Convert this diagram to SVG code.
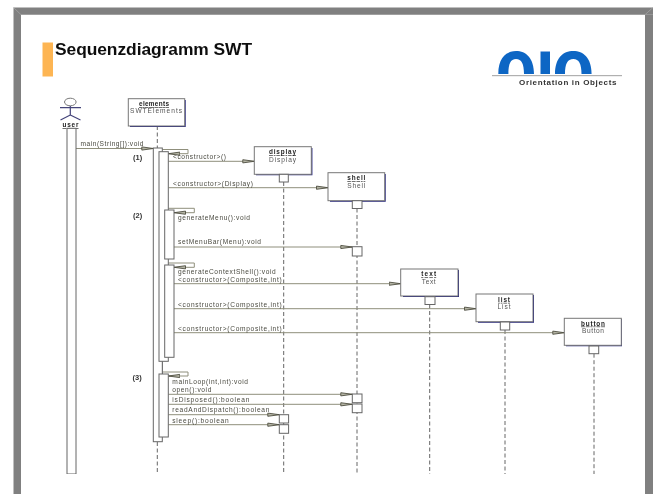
<svg xmlns="http://www.w3.org/2000/svg" width="653" height="494" viewBox="0 0 653 494">
<style>
text{font-family:"Liberation Sans",Arial,sans-serif}
.m{font-size:6.6px;fill:#4a4a40}
.n{font-size:6.4px;fill:#222;font-weight:bold;text-anchor:middle;text-decoration:underline}
.c{font-size:6.6px;fill:#555;text-anchor:middle}
.s{font-size:7.5px;fill:#333;font-weight:bold}
.box{fill:#fff;stroke:#777;stroke-width:1}
.sh{fill:none;stroke:#1c1c80;stroke-width:1.4}
.act{fill:#fff;stroke:#666;stroke-width:1}
.ll{fill:none;stroke:#666;stroke-width:1;stroke-dasharray:4 2.5}
.ar{fill:none;stroke:#8f8f7c;stroke-width:1;marker-end:url(#h)}
.lp{fill:none;stroke:#8f8f7c;stroke-width:1}
.ac{fill:none;stroke:#556;stroke-width:1}
</style>
<defs>
<marker id="h" markerUnits="userSpaceOnUse" markerWidth="13" markerHeight="6" refX="12" refY="3" orient="auto"><path d="M0.5 1.4L12 3L0.5 4.6Z" fill="#b5b5a5" stroke="#4f4f42" stroke-width="0.9"/></marker>
<filter id="b" x="0" y="0" width="100%" height="100%"><feGaussianBlur stdDeviation="0.38"/></filter>
</defs>
<rect width="653" height="494" fill="#fff"/>
<g id="frame">
<path d="M13.5 494V7.5H653V14.7H21V494Z" fill="#808080"/>
<path d="M13.5 7.5L21 14.7M645 14.7L653 7.5" stroke="#a8a8a8" stroke-width="0.7" fill="none"/>
<rect x="645" y="14.7" width="8" height="479.3" fill="#808080"/>
</g>
<g filter="url(#b)">
<g id="title">
<rect x="42.5" y="42.5" width="10.5" height="34" fill="#fdb552"/>
<text x="55" y="55" font-size="17.4" font-weight="bold" fill="#111" textLength="197">Sequenzdiagramm SWT</text>
</g>
<g id="logo">
<path d="M498.3 74C498.3 58 506 51 516 51C526 51 534 58 534 74H524C524 64 521.5 59 516 59C510.5 59 508.4 64 508.4 74Z" fill="#1166c4"/>
<rect x="540.5" y="51.5" width="9.5" height="22.5" fill="#1166c4"/>
<path d="M555 74C555 58 563 51 573.3 51C583.5 51 591.6 58 591.6 74H581.5C581.5 64 579 59 573.3 59C567.5 59 565 64 565 74Z" fill="#1166c4"/>
<rect x="492" y="75" width="130" height="1.2" fill="#b0b0b0"/>
<text x="519" y="85" font-size="8" font-weight="bold" fill="#333" textLength="97.5">Orientation in Objects</text>
</g>
<g id="connectors">
<path class="ll" d="M157.3 126V148M157.3 442V474M283.7 182V474M357 208.5V474M429.7 304.5V474M505 330V474M594 353.7V474"/>
<path class="ar" d="M76 148.5H153.3"/>
<path class="ar" d="M168.3 161.3H254.3"/>
<path class="ar" d="M168.3 187.7H328"/>
<path class="ar" d="M174 247H352.3"/>
<path class="ar" d="M174 283.7H400.7"/>
<path class="ar" d="M174 308.7H476"/>
<path class="ar" d="M174 332.7H564.3"/>
<path class="ar" d="M168.3 394.3H352.3"/>
<path class="ar" d="M168.3 404.3H352.3"/>
<path class="ar" d="M168.3 414.7H279.3"/>
<path class="ar" d="M168.3 424.7H279.3"/>
<path class="lp" d="M162.3 149.5H188V153.7H181"/><path class="ar" d="M181 153.7H168.3"/>
<path class="lp" d="M168.3 208.3H194.3V212.7H187"/><path class="ar" d="M187 212.7H174"/>
<path class="lp" d="M168.3 263H194.3V267.3H187"/><path class="ar" d="M187 267.3H174"/>
<path class="lp" d="M162.3 372H188V376H181"/><path class="ar" d="M181 376H168.3"/>
<path class="ac" d="M162.3 361.3V374"/>
</g>
<g id="user">
<ellipse cx="70.3" cy="102" rx="5.8" ry="3.8" fill="#fff" stroke="#777" stroke-width="1"/>
<path d="M60 107.7H81M70.3 106V115M70.3 115L60.5 120M70.3 115L80.5 120" fill="none" stroke="#44447a" stroke-width="1.2"/>
<text class="n" x="70.5" y="127" textLength="16">user</text>
<rect class="act" x="67" y="128.3" width="9" height="345.7"/>
</g>
<g id="elements">
<path class="sh" d="M185 100V126.3H130"/>
<rect class="box" x="128.3" y="98.7" width="56.4" height="27.3"/>
<text class="n" x="154" y="106" textLength="30">elements</text>
<text class="c" x="156" y="113.3" textLength="52">SWTElements</text>
<rect class="act" x="153.3" y="148" width="9" height="293.7"/>
<rect class="act" x="159" y="151.7" width="9.3" height="209.6"/>
<rect class="act" x="159" y="374" width="9.3" height="63"/>
<rect class="act" x="164.7" y="210" width="9.3" height="49"/>
<rect class="act" x="164.7" y="265" width="9.3" height="92.3"/>
</g>
<g id="display">
<path class="sh" d="M311.7 148V174.6H256"/>
<rect class="box" x="254.3" y="146.7" width="57" height="27.6"/>
<text class="n" x="282.5" y="154.3" textLength="27">display</text>
<text class="c" x="282.5" y="162" textLength="27">Display</text>
<rect class="act" x="279.3" y="174.3" width="9" height="7.7"/>
<rect class="act" x="279.3" y="414.7" width="9.3" height="8.3"/>
<rect class="act" x="279.3" y="424.7" width="9.3" height="8.6"/>
</g>
<g id="shell">
<path class="sh" d="M385 174V201H330"/>
<rect class="box" x="328" y="172.7" width="56.7" height="28"/>
<text class="n" x="356.3" y="180" textLength="18">shell</text>
<text class="c" x="356.3" y="187.8" textLength="18">Shell</text>
<rect class="act" x="352.3" y="200.7" width="9.7" height="7.8"/>
<rect class="act" x="352.3" y="246.7" width="9.7" height="9.3"/>
<rect class="act" x="352.3" y="394" width="9.7" height="8.7"/>
<rect class="act" x="352.3" y="404" width="9.7" height="8.7"/>
</g>
<g id="text">
<path class="sh" d="M458.3 270V296.3H403"/>
<rect class="box" x="400.7" y="269" width="57.3" height="27"/>
<text class="n" x="428.7" y="276.4" textLength="15">text</text>
<text class="c" x="428.7" y="284" textLength="14">Text</text>
<rect class="act" x="425" y="296.7" width="10" height="7.8"/>
</g>
<g id="list">
<path class="sh" d="M533.3 295V322H478"/>
<rect class="box" x="476" y="294" width="57" height="27.7"/>
<text class="n" x="504" y="301.8" textLength="12">list</text>
<text class="c" x="504" y="309.3" textLength="13">List</text>
<rect class="act" x="500.3" y="322" width="9.4" height="8"/>
</g>
<g id="button">
<path class="sh" d="M621.7 319V345.6H566"/>
<rect class="box" x="564.3" y="318.3" width="57" height="27"/>
<text class="n" x="593" y="325.5" textLength="24">button</text>
<text class="c" x="593" y="333" textLength="22">Button</text>
<rect class="act" x="589" y="346" width="9.7" height="7.7"/>
</g>
<g id="labels">
<text class="m" x="80.5" y="146" textLength="63">main(String[]):void</text>
<text class="s" x="133" y="160">(1)</text>
<text class="s" x="133" y="217.5">(2)</text>
<text class="s" x="132.5" y="380">(3)</text>
<text class="m" x="173" y="159" textLength="53">&lt;constructor&gt;()</text>
<text class="m" x="173" y="185.5" textLength="80">&lt;constructor&gt;(Display)</text>
<text class="m" x="178" y="219.5" textLength="72">generateMenu():void</text>
<text class="m" x="178" y="244" textLength="83">setMenuBar(Menu):void</text>
<text class="m" x="178" y="274" textLength="97.7">generateContextShell():void</text>
<text class="m" x="178" y="281.5" textLength="103.7">&lt;constructor&gt;(Composite,int)</text>
<text class="m" x="178" y="306.5" textLength="103.7">&lt;constructor&gt;(Composite,int)</text>
<text class="m" x="178" y="330.5" textLength="103.7">&lt;constructor&gt;(Composite,int)</text>
<text class="m" x="172.3" y="383.5" textLength="75.7">mainLoop(int,int):void</text>
<text class="m" x="172.3" y="391.5" textLength="39">open():void</text>
<text class="m" x="172.3" y="402" textLength="77">isDisposed():boolean</text>
<text class="m" x="172.3" y="412.3" textLength="97">readAndDispatch():boolean</text>
<text class="m" x="172.3" y="422.5" textLength="56.4">sleep():boolean</text>
</g>
</g>
</svg>
